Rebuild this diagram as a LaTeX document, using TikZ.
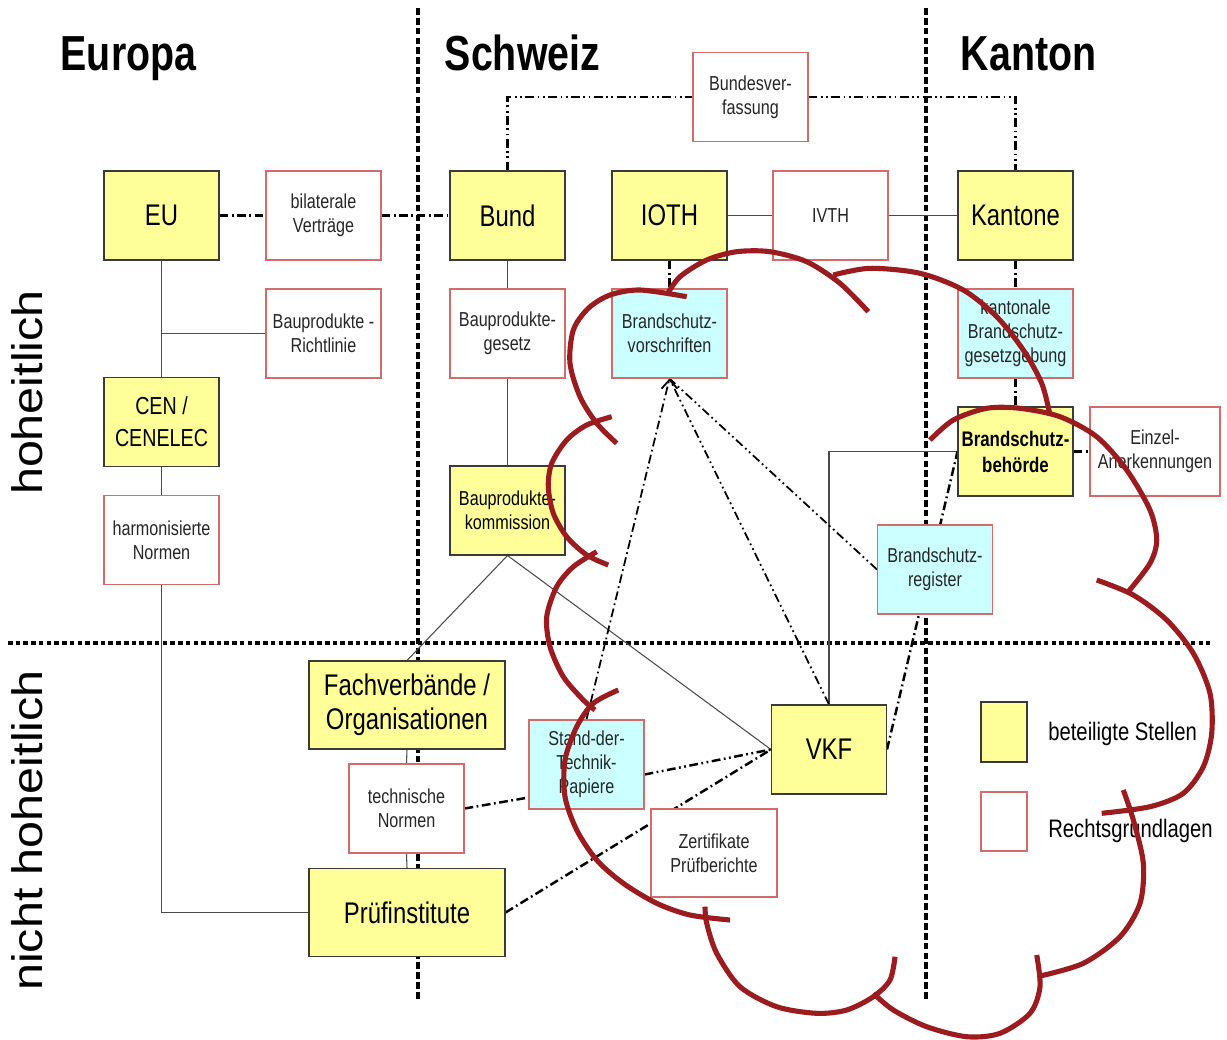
\documentclass[tikz,border=0pt]{standalone}
\usepackage{fontspec}
\setmainfont{Liberation Sans}[FakeStretch=0.8]
\newfontfamily\rotfont{Liberation Sans}
\usetikzlibrary{arrows.meta,calc}
\definecolor{yfill}{HTML}{FFFF99}
\definecolor{cfill}{HTML}{CCFFFF}
\definecolor{ydraw}{HTML}{3A3A3A}
\definecolor{rdraw}{HTML}{D46A6A}
\definecolor{txtg}{HTML}{262626}
\definecolor{lineg}{HTML}{4A4A4A}
\definecolor{cloudred}{HTML}{9B1B1F}
\pgfdeclarelayer{bg}
\pgfdeclarelayer{fg}
\pgfsetlayers{bg,main,fg}
\tikzset{
  boxbase/.style={draw, inner sep=1pt, align=center, minimum width=2.3cm, minimum height=1.78cm, line width=0.6pt},
  ybox/.style={boxbase, fill=yfill, draw=ydraw, font=\fontsize{17}{19.5}\selectfont},
  rbox/.style={boxbase, fill=white, draw=rdraw, text=txtg, font=\fontsize{11.5}{13.8}\selectfont},
  cbox/.style={rbox, fill=cfill},
  wide/.style={minimum width=3.92cm, minimum height=1.76cm},
  thinline/.style={line width=0.6pt, draw=lineg},
  dashdot/.style={line width=1.4pt, dash pattern=on 5pt off 2pt on 1pt off 2pt},
  dashdotdot/.style={line width=1.4pt, dash pattern=on 5pt off 2pt on 1pt off 2pt on 1pt off 2pt},
  finer/.style={line width=1pt},
  vdiv/.style={line width=1.8pt, dash pattern=on 3.8pt off 1.8pt},
  hdiv/.style={line width=2.3pt, dash pattern=on 2.6pt off 1.8pt},
  cloudarc/.style={draw=cloudred, line width=2.9pt},
  title/.style={anchor=base, font=\bfseries\fontsize{28}{30}\selectfont},
  sidelabel/.style={rotate=90, anchor=base, font=\rotfont\fontsize{27.6}{30}\selectfont},
  legtext/.style={anchor=base west, inner sep=0pt, font=\fontsize{14.4}{16}\selectfont},
}
\begin{document}
\begin{tikzpicture}[x=0.02cm, y=-0.02cm]
\useasboundingbox (0,0) rectangle (1227,1039);

% headings
\node[title] (teu) at (128.5,70) {Europa};
\node[title] (tch) at (522.5,70) {Schweiz};
\node[title] (tkt) at (1028.5,70) {Kanton};
\node[sidelabel] (lhoh) at (42,392.5) {\scalebox{1}[0.88]{hoheitlich}};
\node[sidelabel] (lnhoh) at (42,830.5) {\scalebox{1}[0.88]{nicht hoheitlich}};

% top row
\node[ybox] (eu) at (161.5,215.5) {EU};
\node[rbox] (bil) at (323.5,215.5) {bilaterale\\Verträge};
\node[ybox] (bund) at (507.5,215.5) {Bund};
\node[ybox] (ioth) at (669.5,215.5) {IOTH};
\node[rbox] (ivth) at (830.5,215.5) {IVTH};
\node[ybox] (kant) at (1015.5,215.5) {Kantone};
\node[rbox] (bv) at (750.5,97) {Bundesver-\\fassung};

% second row
\node[rbox] (rl) at (323.5,333.5) {Bauprodukte -\\Richtlinie};
\node[rbox] (bpg) at (507.5,333.5) {Bauprodukte-\\gesetz};
\node[cbox] (bsv) at (669.5,333.5) {Brandschutz-\\vorschriften};
\node[cbox] (kbg) at (1015.5,333.5) {kantonale\\Brandschutz-\\gesetzgebung};

% further
\node[ybox, font=\fontsize{14}{18}\selectfont] (cen) at (161.5,422) {CEN /\\CENELEC};
\node[rbox] (harm) at (161.5,540) {harmonisierte\\Normen};
\node[ybox, font=\fontsize{11.5}{13.8}\selectfont] (bpk) at (507.5,510.5) {Bauprodukte-\\kommission};
\node[ybox, font=\bfseries\fontsize{12}{14.8}\selectfont] (bsb) at (1015.5,451.5) {Brandschutz-\\behörde};
\node[rbox, minimum width=2.6cm] (ein) at (1155,451.5) {Einzel-\\Anerkennungen};
\node[cbox] (bsr) at (935,569.5) {Brandschutz-\\register};

% lower part
\node[ybox, wide] (fach) at (407,705) {Fachverbände /\\Organisationen};
\node[rbox] (tn) at (406.5,808.5) {technische\\Normen};
\node[ybox, wide] (pruef) at (407,912.5) {Prüfinstitute};
\node[cbox] (sdt) at (586.5,764.5) {Stand-der-\\Technik-\\Papiere};
\node[ybox] (vkf) at (829,749.5) {VKF};
\node[rbox, minimum width=2.52cm, minimum height=1.76cm] (zert) at (714,853) {Zertifikate\\Prüfberichte};

% legend
\node[ybox, minimum width=0.92cm, minimum height=1.2cm] (legy) at (1004,732) {};
\node[rbox, minimum width=0.92cm, minimum height=1.18cm] (legr) at (1004,821.5) {};
\node[legtext] (legyt) at (1048,740) {beteiligte Stellen};
\node[legtext] (legrt) at (1048,837) {Rechtsgrundlagen};

\begin{pgfonlayer}{bg}
\fill[white] (0,0) rectangle (1227,1039);
\draw[vdiv] (418,8) -- (418,1000);
\draw[vdiv] (926,8) -- (926,1000);
\draw[hdiv] (8,643) -- (1210,643);

\draw[dashdot] (eu) -- (bil);
\draw[dashdot] (bil) -- (bund);
\draw[dashdotdot] (bund.north) |- (bv.west);
\draw[dashdotdot] (bv.east) -| (kant.north);
\draw[thinline] (ioth) -- (ivth);
\draw[thinline] (ivth) -- (kant);
\draw[dashdot] (ioth) -- (bsv);
\draw[dashdot] (kant) -- (kbg);
\draw[dashdot] (kbg) -- (bsb);
\draw[dashdot] (bsb) -- (ein);

\draw[thinline] (eu) -- (cen);
\draw[thinline] (rl.west) -- (rl.west -| eu.south);
\draw[thinline] (cen) -- (harm);
\draw[thinline] (harm.south) |- (pruef.west);
\draw[thinline] (bund) -- (bpg);
\draw[thinline] (bpg) -- (bpk);
\draw[thinline] (bpk.south) -- (fach.north);
\draw[thinline] (bpk.south) -- (vkf.west);
\draw[thinline] (fach.south) -- (tn.north);
\draw[thinline] (tn.south) -- (pruef.north);
\draw[thinline] (vkf.north) |- (bsb.west);

\draw[dashdot, finer] (sdt.north) -- (bsv.south);
\draw[dashdotdot, finer] (vkf.north) -- (bsv.south);
\draw[dashdotdot, finer] (bsr.west) -- (bsv.south);
\draw[dashdot] (tn.east) -- ([yshift=0.24cm]sdt.south west);
\draw[dashdotdot] ([yshift=-0.2cm]sdt.east) -- (vkf.west);
\draw[dashdot] (pruef.east) -- (vkf.west);
\draw[dashdot] (vkf.east) -- (bsb.west);
\end{pgfonlayer}
% arrowhead at Brandschutzvorschriften
\draw[line width=1pt, -{Straight Barb[length=5pt, width=9pt, line width=1pt]}] ([yshift=-1pt]bsv.south) -- (bsv.south);

\begin{pgfonlayer}{fg}
\draw[cloudarc] plot[smooth] coordinates {(616.7,443.3) (596.7,423.3) (580,396.7) (570,363.3) (573.3,330) (588.3,308.3) (610,295) (640,290) (686.7,296.7)};
\draw[cloudarc] plot[smooth] coordinates {(666.7,295) (680,276.7) (706.7,260) (736.7,251.7) (770,251.7) (806.7,261.7) (840,283.3) (868.3,311.7)};
\draw[cloudarc] plot[smooth] coordinates {(833.3,275) (870,268.3) (920,273.3) (963.3,290) (996.7,316.7) (1023.3,350) (1041.7,383.3) (1050,415)};
\draw[cloudarc] plot[smooth] coordinates {(930,440) (953.3,420) (986.7,408.3) (1020,408.3) (1060,416.7) (1096.7,436.7) (1126.7,470) (1150,510) (1156.7,540) (1150,563.3) (1128,592)};
\draw[cloudarc] plot[smooth] coordinates {(1096.7,580) (1133.3,595) (1166.7,620) (1193.3,653.3) (1210,693.3) (1211.7,733.3) (1203.3,766.7) (1183.3,793.3) (1150,806.7) (1101.7,813.3)};
\draw[cloudarc] plot[smooth] coordinates {(1123.3,790) (1133.3,820) (1143.3,863.3) (1140,903.3) (1120,936.7) (1083.3,963.3) (1040,976)};
\draw[cloudarc] plot[smooth] coordinates {(1036.7,955) (1040,986.7) (1030,1013.3) (1000,1033.3) (966.7,1036.7) (926.7,1026.7) (893.3,1010) (873.3,993.3)};
\draw[cloudarc] plot[smooth] coordinates {(895,956.7) (890,980) (873.3,996.7) (846.7,1010) (816.7,1013.3) (776.7,1006.7) (740,986.7) (716.7,953.3) (706.7,923.3) (705,906.7)};
\draw[cloudarc] plot[smooth] coordinates {(618.3,690) (593.3,703.3) (576.7,726.7) (565,760) (565,796.7) (576.7,830) (596.7,860) (623.3,883.3) (656.7,903.3) (690,915) (730,920)};
\draw[cloudarc] plot[smooth] coordinates {(596.7,551.7) (573.3,566.7) (556.7,586.7) (546.7,616.7) (550,646.7) (563.3,676.7) (583.3,700) (595,710)};
\draw[cloudarc] plot[smooth] coordinates {(611.7,416.7) (586.7,425) (566.7,440) (551.7,463.3) (548.3,486.7) (553.3,513.3) (566.7,536.7) (586.7,555) (608.3,565)};
\end{pgfonlayer}
\end{tikzpicture}
\end{document}
